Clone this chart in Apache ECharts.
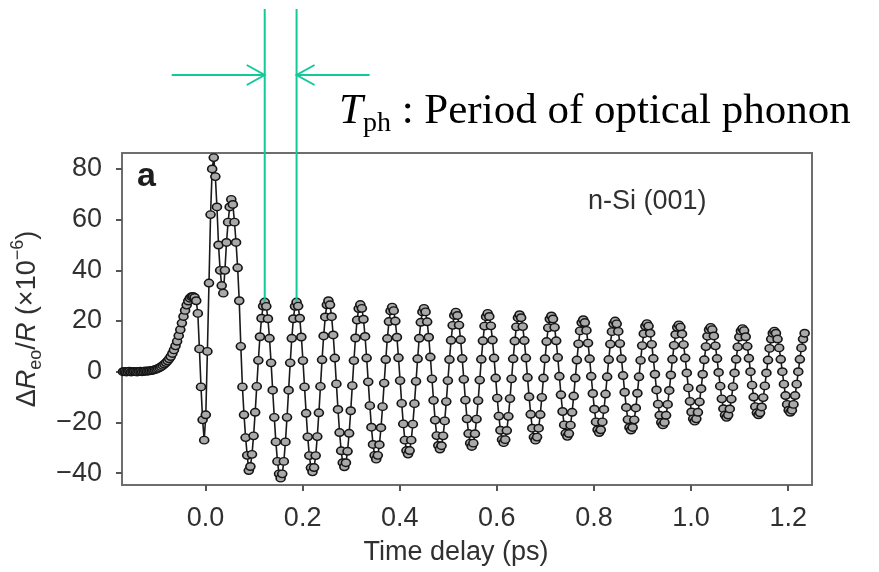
<!DOCTYPE html>
<html>
<head>
<meta charset="utf-8">
<script src="https://cdn.jsdelivr.net/npm/echarts@6/dist/echarts.min.js"></script>
<style>
  html, body { margin: 0; padding: 0; background: #ffffff; }
  #PhononChart { width: 879px; height: 572px; }
</style>
</head>
<body>
<div id="PhononChart"></div>
<script>
// sampling of the pump-probe trace (ps)
const startTime = -0.170
const timeStep = 0.00328

// ΔR_eo/R (x1e-6)
const baselineRise = [
  0, 0.1, -0.1, 0, 0.2, -0.1, 0, 0.1, 0, -0.1,
  0.1, 0.2, 0, 0.1, 0.3, 0.2, 0.3, 0.4, 0.5, 0.6,
  0.8, 1.0, 1.3, 1.6, 2.0, 2.5, 3.0, 3.6, 4.3, 5.1,
  6.0, 7.2, 8.6, 10.2, 12.0, 14.2, 16.6, 19.2, 21.8, 24.2,
  26.3, 27.9, 29.0, 29.6, 29.7, 29.3, 28.0
]
const coherentSpike = [
  23, 9, -6, -19, -27, -17, 8, 35, 62, 80, 84.5, 77, 65, 50, 40, 34, 31,
  40, 51, 59, 65, 68, 66, 59, 51, 41, 28, 10, -6, -17, -26, -33, -39
]
const phononRinging = [
  -37.4, -32.6, -25.3, -16.0, -5.8, 4.5, 13.8, 21.1, 25.9, 27.5,
  25.8, 20.9, 13.2, 3.5, -7.3, -18.0, -27.7, -35.4, -40.3, -42,
  -40.3, -35.4, -27.7, -18.0, -7.3, 3.5, 13.2, 20.9, 25.8, 27.5,
  25.9, 21.1, 13.7, 4.4, -6.0, -16.4, -25.7, -33.1, -37.9, -39.5,
  -37.8, -33.1, -25.6, -16.2, -5.8, 4.7, 14.1, 21.6, 26.4, 28,
  26.4, 21.7, 14.5, 5.4, -4.8, -14.9, -24.0, -31.2, -35.9, -37.5,
  -35.9, -31.4, -24.3, -15.4, -5.5, 4.4, 13.3, 20.4, 24.9, 26.5,
  25.0, 20.7, 13.9, 5.4, -4.0, -13.4, -21.9, -28.7, -33.0, -34.5,
  -33.0, -28.8, -22.1, -13.8, -4.5, 4.8, 13.1, 19.8, 24.0, 25.5,
  24.1, 20.0, 13.6, 5.5, -3.5, -12.5, -20.6, -27.0, -31.1, -32.5,
  -31.1, -27.0, -20.7, -12.6, -3.8, 5.1, 13.2, 19.5, 23.6, 25,
  23.6, 19.7, 13.6, 5.8, -2.8, -11.3, -19.1, -25.2, -29.1, -30.5,
  -29.2, -25.3, -19.4, -11.8, -3.5, 4.8, 12.4, 18.3, 22.2, 23.5,
  22.2, 18.4, 12.6, 5.2, -3.0, -11.2, -18.6, -24.4, -28.2, -29.5,
  -28.2, -24.5, -18.7, -11.4, -3.3, 4.9, 12.2, 18.0, 21.7, 23,
  21.8, 18.1, 12.5, 5.4, -2.5, -10.4, -17.5, -23.1, -26.8, -28,
  -26.8, -23.2, -17.6, -10.6, -2.8, 5.1, 12.1, 17.7, 21.3, 22.5,
  21.3, 17.8, 12.3, 5.4, -2.3, -9.9, -16.8, -22.3, -25.8, -27,
  -25.8, -22.3, -16.9, -10.1, -2.5, 5.1, 11.9, 17.3, 20.8, 22,
  20.8, 17.5, 12.2, 5.6, -1.8, -9.1, -15.7, -21.0, -24.3, -25.5,
  -24.4, -21.1, -16.0, -9.6, -2.5, 4.6, 11.0, 16.1, 19.4, 20.5,
  19.4, 16.3, 11.3, 5.1, -1.8, -8.6, -14.8, -19.8, -22.9, -24,
  -22.9, -19.8, -14.9, -8.8, -2.0, 4.8, 10.9, 15.8, 18.9, 20,
  18.9, 15.9, 11.1, 5.1, -1.5, -8.1, -14.1, -18.9, -22.0, -23,
  -22.0, -19.0, -14.3, -8.5, -2.0, 4.5, 10.3, 15.0, 18.0, 19,
  18.0, 15.2, 10.8, 5.2, -1.0, -7.2, -12.8, -17.2, -20.0, -21,
  -20.0, -17.2, -12.9, -7.4, -1.3, 4.9, 10.4, 14.7, 17.5, 18.5,
  17.6, 14.9, 10.7, 5.4, -0.5, -6.4, -11.7, -15.9, -18.6, -19.5,
  -18.6, -16.0, -11.9, -6.7, -1.0, 4.7, 9.9, 14.0, 16.6, 17.5,
  16.6, 14.1, 10.2, 5.2, -0.3, -5.7, -10.7, -14.6, -17.1, -18,
  -17.1, -14.7, -10.8, -5.9, -0.5, 4.9, 9.8, 13.7, 16.1, 17,
  16.2, 13.8, 10.0, 5.3, 0, -5.3, -10.0, -13.8, -16.2, -17,
  -16.2, -13.9, -10.2, -5.6, -0.5, 4.6, 9.2, 12.9, 15.2, 16,
  15.2, 12.9, 9.4, 4.9, 0, -4.9, -9.4, -12.9, -15.2, -16,
  -15.2, -12.9, -9.4, -4.9, 0, 4.9, 9.4, 12.9, 15.2
]

const xTicks = [0, 0.2, 0.4, 0.6, 0.8, 1.0, 1.2]
const yTicks = [-40, -20, 0, 20, 40, 60, 80]
// sample indices of the two peaks bracketing T_ph
const markedPeaks = [89, 109]

const signal = baselineRise.concat(coherentSpike, phononRinging)
const traceData = signal.map((v, i) => [startTime + i * timeStep, v])

const AXIS_GREY = '#6e6e6e'
const TEXT = '#303030'
const GREEN = '#12c99a'
const SANS = '"Liberation Sans", Arial, sans-serif'
const SERIF = '"Liberation Serif", "Times New Roman", serif'

const fmtY = v => (v < 0 ? '\u2212' + Math.abs(v) : String(v))

const chart = echarts.init(document.getElementById('PhononChart'))
chart.setOption({
  animation: false,
  grid: {
    left: 122, right: 67, top: 153, bottom: 87,
    show: true, borderColor: AXIS_GREY, borderWidth: 2
  },
  xAxis: {
    type: 'value',
    min: -0.172,
    max: 1.249,
    axisLine: { show: true, onZero: false, lineStyle: { color: AXIS_GREY, width: 2 } },
    axisTick: { show: true, customValues: xTicks, length: 6, lineStyle: { color: '#555', width: 2 } },
    axisLabel: {
      customValues: xTicks,
      formatter: v => v.toFixed(1),
      fontSize: 27, color: TEXT, fontFamily: SANS, margin: 20
    },
    splitLine: { show: false },
    name: 'Time delay (ps)',
    nameLocation: 'middle',
    nameGap: 54,
    nameTextStyle: { fontSize: 27, color: TEXT, fontFamily: SANS, padding: [0, 22, 0, 0] }
  },
  yAxis: {
    type: 'value',
    min: -44.7,
    max: 86.3,
    axisLine: { show: true, onZero: false, lineStyle: { color: AXIS_GREY, width: 2 } },
    axisTick: { show: true, customValues: yTicks, length: 6, lineStyle: { color: '#555', width: 2 } },
    axisLabel: {
      customValues: yTicks,
      formatter: fmtY,
      fontSize: 27, color: TEXT, fontFamily: SANS, margin: 20
    },
    splitLine: { show: false },
    name: '{u|\u0394}{i|R}{sub|eo}{u|/}{i|R}{u| (\u00d710}{sup|\u22126}{u|)}',
    nameLocation: 'middle',
    nameRotate: 90,
    nameGap: 72,
    nameTextStyle: {
      color: TEXT,
      fontFamily: SANS,
      rich: {
        u: { fontSize: 27, lineHeight: 36, fontFamily: SANS, color: TEXT },
        i: { fontSize: 27, lineHeight: 36, fontStyle: 'italic', fontFamily: SANS, color: TEXT },
        sub: { fontSize: 18, lineHeight: 18, verticalAlign: 'bottom', fontFamily: SANS, color: TEXT },
        sup: { fontSize: 18, lineHeight: 18, verticalAlign: 'top', fontFamily: SANS, color: TEXT }
      }
    }
  },
  series: [{
    type: 'line',
    data: traceData,
    showAllSymbol: true,
    symbol: 'circle',
    symbolSize: [9, 7.5],
    itemStyle: { color: '#a9a9a9', borderColor: '#151515', borderWidth: 1.5 },
    lineStyle: { color: '#1a1a1a', width: 1.6 },
    z: 3
  }]
})

// T_ph annotation: vertical markers at two successive phonon peaks
const peakPx = markedPeaks.map(i => chart.convertToPixel({ gridIndex: 0 }, traceData[i]))
const arrowY = 75
const lineTop = 9
const head = (tipX, dir) => ({
  type: 'polyline',
  shape: { points: [[tipX - dir * 18, arrowY - 10], [tipX, arrowY], [tipX - dir * 18, arrowY + 10]] },
  style: { stroke: GREEN, lineWidth: 2, fill: null },
  z: 20
})
const vline = p => ({
  type: 'line',
  shape: { x1: p[0], y1: lineTop, x2: p[0], y2: p[1] },
  style: { stroke: GREEN, lineWidth: 2 },
  z: 20
})

chart.setOption({
  graphic: [
    { type: 'text', left: 137, top: 160, style: { text: 'a', fontSize: 34, fontWeight: 'bold', fontFamily: SANS, fill: '#1e1e1e' } },
    { type: 'text', left: 588, top: 188, style: { text: 'n-Si (001)', fontSize: 27, fontFamily: SANS, fill: TEXT } },
    vline(peakPx[0]),
    vline(peakPx[1]),
    { type: 'line', shape: { x1: peakPx[0][0] - 93, y1: arrowY, x2: peakPx[0][0], y2: arrowY }, style: { stroke: GREEN, lineWidth: 2 }, z: 20 },
    head(peakPx[0][0], 1),
    { type: 'line', shape: { x1: peakPx[1][0] + 73, y1: arrowY, x2: peakPx[1][0], y2: arrowY }, style: { stroke: GREEN, lineWidth: 2 }, z: 20 },
    head(peakPx[1][0], -1),
    {
      type: 'text',
      x: 339,
      y: 86,
      z: 20,
      style: {
        text: '{T|T}{s|ph}{n| : Period of optical phonon}',
        fill: '#000',
        verticalAlign: 'top',
        rich: {
          T: { fontSize: 43, lineHeight: 52, fontStyle: 'italic', fontFamily: SERIF, fill: '#000' },
          s: { fontSize: 28, lineHeight: 27, verticalAlign: 'bottom', fontFamily: SERIF, fill: '#000' },
          n: { fontSize: 43, lineHeight: 52, fontFamily: SERIF, fill: '#000' }
        }
      }
    }
  ]
})
</script>
</body>
</html>
